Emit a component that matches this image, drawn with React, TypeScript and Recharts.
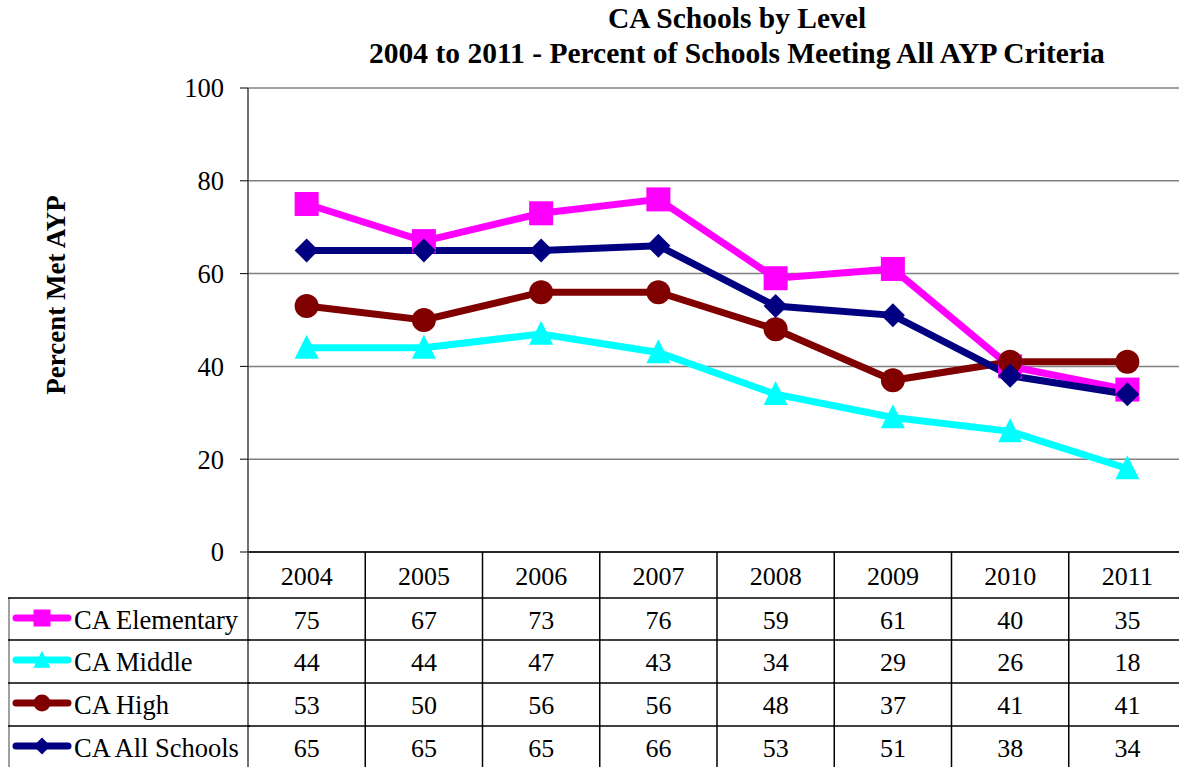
import React from 'react';
import { LineChart, Line, XAxis, YAxis, CartesianGrid } from 'recharts';

const years = ['2004', '2005', '2006', '2007', '2008', '2009', '2010', '2011'];
const elementary = [75, 67, 73, 76, 59, 61, 40, 35];
const middle = [44, 44, 47, 43, 34, 29, 26, 18];
const high = [53, 50, 56, 56, 48, 37, 41, 41];
const allSchools = [65, 65, 65, 66, 53, 51, 38, 34];
const yTicks = [0, 20, 40, 60, 80, 100];

const series = [
  { key: 'elementary', name: 'CA Elementary', color: '#ff00ff', shape: 'square', values: elementary },
  { key: 'middle', name: 'CA Middle', color: '#00ffff', shape: 'triangle', values: middle },
  { key: 'high', name: 'CA High', color: '#800000', shape: 'circle', values: high },
  { key: 'all', name: 'CA All Schools', color: '#000080', shape: 'diamond', values: allSchools },
];

const data = years.map((year, i) => {
  const row: Record<string, string | number> = { year };
  series.forEach((s) => {
    row[s.key] = s.values[i];
  });
  return row;
});

const FONT = '"Liberation Serif", "Times New Roman", serif';
const PLOT_BOTTOM = 552;
const COL_W = 117.25;
const ROW_LINES = [598, 640, 683, 726];
const ROW_CENTERS = [620, 662, 705, 748];

function Marker({ shape, cx, cy, size, color }: any) {
  const h = size / 2;
  if (shape === 'square') return <rect x={cx - h} y={cy - h} width={size} height={size} fill={color} />;
  if (shape === 'circle') return <circle cx={cx} cy={cy} r={h} fill={color} />;
  if (shape === 'triangle')
    return <polygon points={`${cx},${cy - size * 0.55} ${cx - h},${cy + size * 0.45} ${cx + h},${cy + size * 0.45}`} fill={color} />;
  return <polygon points={`${cx},${cy - h} ${cx + h},${cy} ${cx},${cy + h} ${cx - h},${cy}`} fill={color} />;
}

// each x tick draws one column of the data table underneath the plot
function TableTick(props: any) {
  const { x, payload, index } = props;
  const left = x - COL_W / 2;
  return (
    <g>
      <line x1={left} y1={PLOT_BOTTOM} x2={left} y2={767} stroke={index === 0 ? '#404040' : '#000'} strokeWidth={1.5} />
      {ROW_LINES.map((y) => (
        <line key={y} x1={left} y1={y} x2={left + COL_W} y2={y} stroke="#000" strokeWidth={1.5} />
      ))}
      <text x={x} y={576} textAnchor="middle" dominantBaseline="central" fontFamily={FONT} fontSize={26} fill="#000">
        {payload.value}
      </text>
      {series.map((s, r) => (
        <text key={s.key} x={x} y={ROW_CENTERS[r]} textAnchor="middle" dominantBaseline="central" fontFamily={FONT} fontSize={26} fill="#000">
          {s.values[index]}
        </text>
      ))}
    </g>
  );
}

function LegendColumn() {
  return (
    <svg width={250} height={767} style={{ position: 'absolute', left: 0, top: 0 }}>
      <line x1={9} y1={ROW_LINES[0]} x2={9} y2={767} stroke="#808080" strokeWidth={1.5} />
      {ROW_LINES.map((y) => (
        <line key={y} x1={8} y1={y} x2={250} y2={y} stroke="#000" strokeWidth={1.5} />
      ))}
      {series.map((s, r) => {
        const cy = ROW_CENTERS[r] - 2;
        return (
          <g key={s.key}>
            <line x1={16} y1={cy} x2={68} y2={cy} stroke={s.color} strokeWidth={7} strokeLinecap="round" />
            <Marker shape={s.shape} cx={42} cy={cy} size={17} color={s.color} />
            <text x={74} y={ROW_CENTERS[r]} dominantBaseline="central" fontFamily={FONT} fontSize={26.5} fill="#000">
              {s.name}
            </text>
          </g>
        );
      })}
    </svg>
  );
}

export default function App() {
  return (
    <div style={{ position: 'absolute', left: 0, top: 0, width: 1179, height: 767, overflow: 'hidden', background: '#fff' }}>
      <LineChart width={1190} height={767} data={data} margin={{ top: 88, right: 4, bottom: 0, left: 0 }}>
        <CartesianGrid horizontal vertical={false} stroke="#808080" strokeWidth={1.5} />
        <XAxis
          dataKey="year"
          height={215}
          padding={{ left: COL_W / 2, right: COL_W / 2 }}
          tickLine={false}
          axisLine={{ stroke: '#000', strokeWidth: 1.5 }}
          tick={(p: any) => <TableTick {...p} />}
          interval={0}
        />
        <YAxis
          width={248}
          domain={[0, 100]}
          ticks={yTicks}
          tickSize={8}
          tickMargin={16}
          axisLine={{ stroke: '#404040', strokeWidth: 1.5 }}
          tickLine={{ stroke: '#000' }}
          tick={{ fontFamily: FONT, fontSize: 26.5, fill: '#000' }}
          label={() => (
            <text
              x={56}
              y={295}
              transform="rotate(-90 56 295)"
              textAnchor="middle"
              dominantBaseline="central"
              fontFamily={FONT}
              fontSize={27}
              fontWeight="bold"
              fill="#000"
            >
              Percent Met AYP
            </text>
          )}
        />
        {series.map((s) => (
          <Line
            key={s.key}
            dataKey={s.key}
            name={s.name}
            stroke={s.color}
            strokeWidth={7}
            isAnimationActive={false}
            dot={(p: any) => <Marker key={`${s.key}-${p.index}`} shape={s.shape} cx={p.cx} cy={p.cy} size={24} color={s.color} />}
            activeDot={false}
          />
        ))}
      </LineChart>
      <LegendColumn />
      <div
        style={{
          position: 'absolute',
          left: 237,
          top: 1,
          width: 1000,
          textAlign: 'center',
          fontFamily: FONT,
          fontSize: 29.5,
          fontWeight: 'bold',
          lineHeight: '35px',
        }}
      >
        <div>CA Schools by Level</div>
        <div>2004 to 2011 - Percent of Schools Meeting All AYP Criteria</div>
      </div>
    </div>
  );
}
